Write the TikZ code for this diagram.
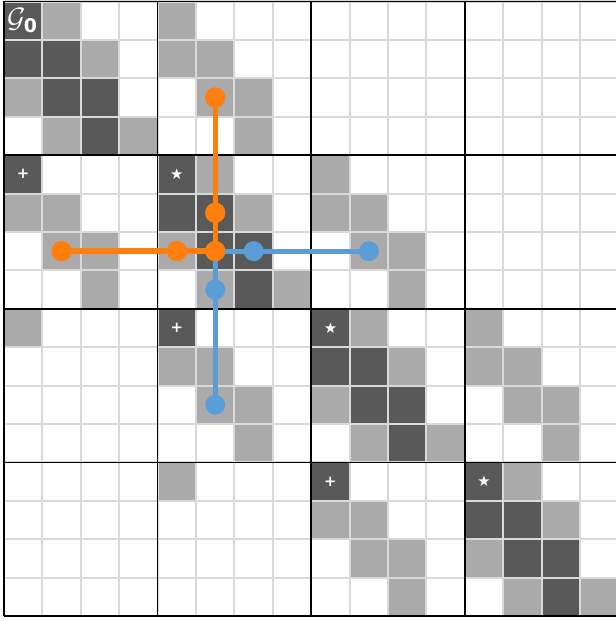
\documentclass[tikz,border=0pt]{standalone}
\usepackage{amsmath,amssymb,amsfonts}
\usepackage{fontspec}
\usepackage{xcolor}
\usepackage{tikz}
\usetikzlibrary{positioning}
\newfontfamily\markfont{DejaVu Sans}
\definecolor{darkcell}{HTML}{595959}
\definecolor{lightcell}{HTML}{AAAAAA}
\definecolor{gridgray}{HTML}{D9D9D9}
\definecolor{walkorange}{HTML}{FF7F0E}
\definecolor{walkblue}{HTML}{5B9DD6}

\begin{document}
\begin{tikzpicture}[
  x=1cm, y=-1cm,
  dark/.style={fill=darkcell},
  light/.style={fill=lightcell},
  gridline/.style={draw=gridgray, line width=1.5pt},
  blockline/.style={draw=black, line width=1.2pt},
  cellmark/.style={text=white, inner sep=0pt, font=\markfont\bfseries\fontsize{11}{11}\selectfont},
  odot/.style={circle, fill=walkorange, minimum size=5.3mm, inner sep=0pt},
  bdot/.style={circle, fill=walkblue, minimum size=5.2mm, inner sep=0pt},
  oline/.style={draw=walkorange, line width=4pt},
  bline/.style={draw=walkblue, line width=3.8pt}]
\useasboundingbox[fill=white] (-0.104,-0.039) rectangle (15.922,16.13);
% blocks next to the diagonal
\foreach \bc/\br in {4/0,8/4,12/8,0/4,4/8,8/12}
  \foreach \c/\r in {0/0,0/1,1/1,1/2,2/2,2/3}
    \fill[light] (\bc+\c,\br+\r) rectangle ++(1,1);
\foreach \bc/\br in {0/4,4/8,8/12}
  \fill[dark] (\bc,\br) rectangle ++(1,1);
% diagonal blocks
\foreach \b in {0,4,8,12} {
  \foreach \c/\r in {0/0,0/1,1/1,1/2,2/2,2/3}
    \fill[dark] (\b+\c,\b+\r) rectangle ++(1,1);
  \foreach \c/\r in {1/0,2/1,0/2,1/3,3/3}
    \fill[light] (\b+\c,\b+\r) rectangle ++(1,1);
}
\fill[light] (0,8) rectangle ++(1,1);
\fill[light] (4,12) rectangle ++(1,1);
\foreach \i in {0,...,16} {
  \draw[gridline] (\i,0) -- (\i,16);
  \draw[gridline] (0,\i) -- (16,\i);
}
\foreach \i in {0,4,8,12,16} {
  \draw[blockline] (\i,0) -- (\i,16);
  \draw[blockline] (0,\i) -- (16,\i);
}
% labels in the cells
\node[cellmark, font=\fontsize{21}{21}\selectfont] (g0) at (0.48,0.5)
  {$\mathcal{G}_{\text{\markfont\bfseries\fontsize{14}{14}\selectfont 0}}$};
\node[cellmark] (s1) at (4.5,4.5) {★};
\node[cellmark] (s2) at (8.5,8.5) {★};
\node[cellmark] (s3) at (12.5,12.5) {★};
\node[cellmark] (p1) at (0.5,4.5) {+};
\node[cellmark] (p2) at (4.5,8.5) {+};
\node[cellmark] (p3) at (8.5,12.5) {+};
% walk
\coordinate (ctr) at (5.5,6.5);
\coordinate (up1) at (5.5,5.5);
\coordinate (up2) at (5.5,2.5);
\coordinate (lf1) at (4.5,6.5);
\coordinate (lf2) at (1.5,6.5);
\coordinate (rt1) at (6.5,6.5);
\coordinate (rt2) at (9.5,6.5);
\coordinate (dn1) at (5.5,7.5);
\coordinate (dn2) at (5.5,10.5);
\draw[bline] (ctr) -- (rt2);
\draw[bline] (ctr) -- (dn2);
\draw[oline] (ctr) -- (up2);
\draw[oline] (ctr) -- (lf2);
\node[bdot] (nrt1) at (rt1) {};
\node[bdot] (nrt2) at (rt2) {};
\node[bdot] (ndn1) at (dn1) {};
\node[bdot] (ndn2) at (dn2) {};
\node[odot] (nup1) at (up1) {};
\node[odot] (nup2) at (up2) {};
\node[odot] (nlf1) at (lf1) {};
\node[odot] (nlf2) at (lf2) {};
\node[odot] (nctr) at (ctr) {};
\end{tikzpicture}
\end{document}
